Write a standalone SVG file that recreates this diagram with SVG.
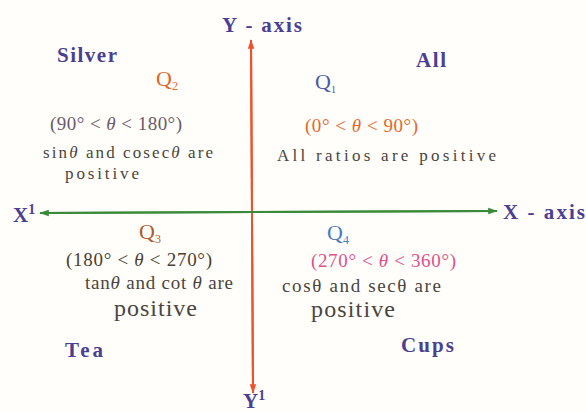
<svg xmlns="http://www.w3.org/2000/svg" width="586" height="412" viewBox="0 0 586 412">
<defs>
<marker id="ar" viewBox="0 0 12 10" refX="11" refY="5" markerWidth="10" markerHeight="8" markerUnits="userSpaceOnUse" orient="auto"><path d="M0,1 L12,5 L0,9 z" fill="#f0502a"/></marker>
<marker id="ag" viewBox="0 0 12 10" refX="11" refY="5" markerWidth="10" markerHeight="8" markerUnits="userSpaceOnUse" orient="auto"><path d="M0,1 L12,5 L0,9 z" fill="#3a8a3a"/></marker>
<style>
text{font-family:"Liberation Serif","Times New Roman",serif}
.lab{font-weight:bold;fill:#4b3f91;font-size:21px}
.rng{font-size:19px}
.txt{font-size:17px;fill:#4a4540}
.txt2{font-size:19px;fill:#4a4540}
.big{font-size:24px;fill:#4a4540}
.q{font-size:22px}
</style>
</defs>
<rect width="586" height="412" fill="#fffefa"/>
<g id="connectors">
<line x1="251" y1="40" x2="253" y2="393" stroke="#f0502a" stroke-width="2" marker-end="url(#ar)"/>
<line x1="253" y1="393" x2="251" y2="40" stroke="#f0502a" stroke-width="2" marker-end="url(#ar)"/>
<line x1="40" y1="213" x2="497" y2="211" stroke="#3a8a3a" stroke-width="2" marker-end="url(#ag)"/>
<line x1="497" y1="211" x2="40" y2="213" stroke="#3a8a3a" stroke-width="2" marker-end="url(#ag)"/>
</g>
<g id="yaxis"><text class="lab" x="222" y="32" textLength="80">Y - axis</text></g>
<g id="xaxis"><text class="lab" x="503" y="219" textLength="82">X - axis</text></g>
<g id="x1"><text class="lab" x="13" y="222">X<tspan font-size="14" dy="-8">1</tspan></text></g>
<g id="y1"><text class="lab" x="243" y="408" font-size="20">Y<tspan font-size="14" dy="-8">1</tspan></text></g>
<g id="q2">
<text class="lab" x="57" y="62" textLength="60">Silver</text>
<text class="q" x="156" y="86" fill="#e0662a">Q<tspan font-size="12" dy="4">2</tspan></text>
<text class="rng" x="50" y="130" fill="#6b5a6a" textLength="132">(90° &lt; <tspan font-style="italic">θ</tspan> &lt; 180°)</text>
<text class="txt" x="43" y="158" textLength="170">sin<tspan font-style="italic">θ</tspan> and cosec<tspan font-style="italic">θ</tspan> are</text>
<text class="txt" x="65" y="179" textLength="74">positive</text>
</g>
<g id="q1">
<text class="lab" x="416" y="67" textLength="30">All</text>
<text class="q" x="315" y="89" fill="#4a5aa8">Q<tspan font-size="10" dy="4">1</tspan></text>
<text class="rng" x="305" y="132" fill="#e8662a" textLength="113">(0° &lt; <tspan font-style="italic">θ</tspan> &lt; 90°)</text>
<text class="txt" x="277" y="161" textLength="219">All ratios are positive</text>
</g>
<g id="q3">
<text class="q" x="139" y="239" fill="#b05a2a">Q<tspan font-size="12" dy="4">3</tspan></text>
<text class="rng" x="66" y="266" fill="#4a4030" textLength="146">(180° &lt; <tspan font-style="italic">θ</tspan> &lt; 270°)</text>
<text class="txt2" x="85" y="289" textLength="148">tan<tspan font-style="italic">θ</tspan> and cot <tspan font-style="italic">θ</tspan> are</text>
<text class="big" x="114" y="316" textLength="83">positive</text>
<text class="lab" x="65" y="357" textLength="38">Tea</text>
</g>
<g id="q4">
<text class="q" x="327" y="240" fill="#4a7ac8">Q<tspan font-size="12" dy="4">4</tspan></text>
<text class="rng" x="311" y="267" fill="#e0508a" textLength="145">(270° &lt; <tspan font-style="italic">θ</tspan> &lt; 360°)</text>
<text class="txt2" x="282" y="292" textLength="159">cosθ and secθ are</text>
<text class="big" x="311" y="317" textLength="84">positive</text>
<text class="lab" x="401" y="352" textLength="53">Cups</text>
</g>
</svg>
